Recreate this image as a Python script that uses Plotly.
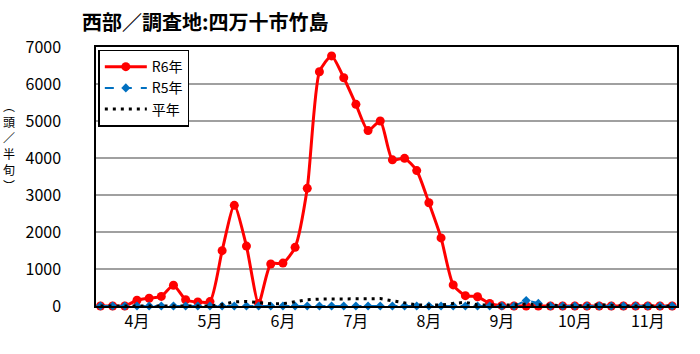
import plotly.graph_objects as go

months = ["4月", "5月", "6月", "7月", "8月", "9月", "10月", "11月"]
pentads_per_month = 6
n = len(months) * pentads_per_month
x_idx = list(range(n))

r6 = [0, 0, 0, 155, 210, 260, 560, 170, 110, 120,
      1495, 2720, 1620, 70, 1135, 1160, 1585, 3180, 6330, 6760,
      6170, 5450, 4740, 5000, 3950, 3990, 3660, 2790, 1840, 570,
      280, 250, 70, 10, 0, 0, 0, 0, 0, 0,
      0, 0, 0, 0, 0, 0, 0, 0]
r5 = [0] * 35 + [150, 70] + [0] * 11
heinen = [0, 0, 0, 0, 0, 0, 0, 0, 0, 0,
          40, 110, 125, 90, 60, 60, 120, 170, 185, 185,
          185, 190, 195, 200, 140, 80, 30, 25, 25, 70,
          100, 30, 25, 25, 30, 50, 30, 10, 10, 10,
          10, 40, 10, 0, 0, 0, 0, 0]

tick_pos = [i * pentads_per_month + 3 for i in range(len(months))]
yticks = list(range(0, 7001, 1000))

ylabel_chars = ["︵", "頭", "／", "半", "旬", "︶"]
ylabel_pix = [105, 121, 137, 153, 169, 185]

FONT = "Noto Sans CJK JP"
PLOT_TOP, PLOT_BOTTOM, PLOT_LEFT = 47, 306, 96

fig = go.Figure()
fig.add_trace(go.Scatter(
    x=x_idx, y=r6, name="R6年", mode="lines+markers",
    line=dict(color="#FF0000", width=3, shape="spline", smoothing=0.6),
    marker=dict(symbol="circle", size=9, color="#FF0000"),
    cliponaxis=False,
))
fig.add_trace(go.Scatter(
    x=x_idx, y=r5, name="R5年", mode="lines+markers",
    line=dict(color="#0070C0", width=2, dash="dash"),
    marker=dict(symbol="diamond", size=7, color="#0070C0"),
    cliponaxis=False,
))
fig.add_trace(go.Scatter(
    x=x_idx, y=heinen, name="平年", mode="lines",
    line=dict(color="#000000", width=3, dash="3px,5px"),
    cliponaxis=False,
))

fig.update_layout(
    width=700, height=354,
    margin=dict(l=PLOT_LEFT, r=23, t=PLOT_TOP, b=354 - PLOT_BOTTOM),
    paper_bgcolor="white", plot_bgcolor="white",
    font=dict(family=FONT, color="#000000", size=16),
    title=dict(text="<b>西部／調査地:四万十市竹島</b>",
               x=82 / 700, xanchor="left", xref="container",
               y=1 - 23 / 354, yanchor="middle", yref="container",
               font=dict(size=20, family=FONT, color="#000000")),
    showlegend=True,
    legend=dict(x=0.004, y=0.99, xanchor="left", yanchor="top",
                bgcolor="white", bordercolor="#000000", borderwidth=1.5,
                font=dict(size=14, family=FONT), itemwidth=42,
                tracegroupgap=0),
)
fig.update_xaxes(
    range=[-0.37, n - 1 + 0.4],
    tickmode="array", tickvals=tick_pos, ticktext=months,
    showgrid=False, zeroline=False,
    showline=True, linecolor="#000000", linewidth=1.5, mirror=True,
    ticks="", tickfont=dict(size=16, family=FONT),
)
fig.update_yaxes(
    range=[0, 7000], tickmode="array", tickvals=yticks,
    showgrid=True, gridcolor="#A0A0A0", gridwidth=1.5, zeroline=False,
    showline=True, linecolor="#000000", linewidth=1.5, mirror=True,
    ticks="", ticklabelstandoff=30, tickfont=dict(size=16, family=FONT),
)
plot_h = PLOT_BOTTOM - PLOT_TOP
for ch, py in zip(ylabel_chars, ylabel_pix):
    fig.add_annotation(
        text=ch, xref="paper", yref="paper",
        x=(9 - PLOT_LEFT) / 581, y=(PLOT_BOTTOM - py) / plot_h,
        xanchor="center", yanchor="middle", showarrow=False,
        font=dict(size=12, family=FONT, color="#000000"),
    )

fig.write_html("out.html")
